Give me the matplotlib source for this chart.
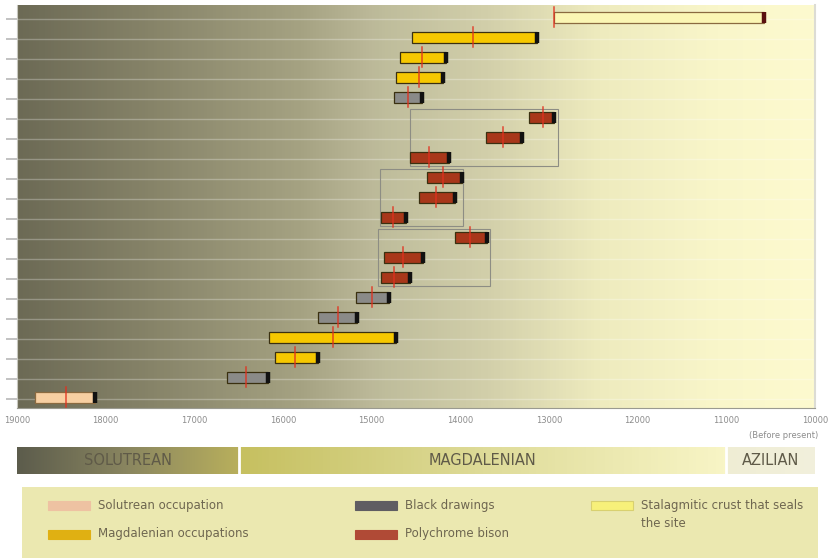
import numpy as np
import matplotlib
matplotlib.use("Agg")
import matplotlib.pyplot as plt
from matplotlib.colors import LinearSegmentedColormap
from matplotlib.patches import Rectangle

# ── Data (years before present), rows listed top to bottom ──────────────────
kinds = ["crust", "magd", "magd", "magd", "black",
         "bison", "bison", "bison", "bison", "bison",
         "bison", "bison", "bison", "bison", "black",
         "black", "magd", "magd", "black", "solu"]
starts = [12940, 14550, 14680, 14730, 14750,
          13220, 13710, 14570, 14380, 14470,
          14900, 14060, 14860, 14900, 15180,
          15600, 16160, 16090, 16630, 18800]
ends = [10570, 13130, 14160, 14190, 14430,
        12940, 13310, 14130, 13980, 14060,
        14610, 13700, 14420, 14570, 14800,
        15160, 14720, 15600, 16170, 18120]
marks = [12940, 13860, 14430, 14470, 14590,
         13070, 13520, 14350, 14200, 14280,
         14760, 13890, 14650, 14750, 15000,
         15380, 15440, 15870, 16420, 18450]

# frames around groups of polychrome bison (old, young, first row, last row)
group_old = [14570, 14910, 14930]
group_young = [12900, 13970, 13670]
group_first = [6, 9, 12]
group_last = [8, 11, 14]

xticks = [19000, 18000, 17000, 16000, 15000, 14000, 13000, 12000, 11000, 10000]

periods = ["SOLUTREAN", "MAGDALENIAN", "AZILIAN"]
period_from = [19000, 16500, 11000]
period_to = [16500, 11000, 10000]

legend_labels = ["Solutrean occupation", "Magdalenian occupations",
                 "Black drawings", "Polychrome bison",
                 "Stalagmitic crust that seals\nthe site"]
legend_kinds = ["solu", "magd", "black", "bison", "crust"]

# ── Styles ──────────────────────────────────────────────────────────────────
fill = {"solu": "#f7cfa2", "magd": "#f6c800", "black": "#8a8a88",
        "bison": "#a8371a", "crust": "#fbf6b4"}
swatch = {"solu": "#eec2a2", "magd": "#e0b012", "black": "#5f5d62",
          "bison": "#b04a36", "crust": "#f7f07a"}
text_col = "#6e6650"

W, H = 835, 560
fig = plt.figure(figsize=(W / 100, H / 100), dpi=100)
fig.patch.set_facecolor("white")

# ── Main timeline ───────────────────────────────────────────────────────────
ax = fig.add_axes([17 / W, 1 - 408 / H, 798 / W, 403 / H])
ax.set_xlim(19000, 10000)
ax.set_ylim(20.55, 0.4)

bg = LinearSegmentedColormap.from_list("bg", [
    (0.0, "#6c6a55"), (0.17, "#878469"), (0.355, "#a5a282"),
    (0.455, "#bebc9b"), (0.59, "#d2cfaa"), (0.73, "#eeebbe"),
    (0.88, "#f9f6ca"), (1.0, "#fdfacf")])
ax.imshow(np.linspace(0, 1, 256).reshape(1, -1), cmap=bg, aspect="auto",
          extent=(19000, 10000, 20.55, 0.4), zorder=0)

rows = np.arange(1, len(kinds) + 1)
for r in rows:
    ax.axhline(r + 0.1, color="white", alpha=0.28, lw=1, zorder=1)

h = 0.55
for r, k, s, e, m in zip(rows, kinds, starts, ends, marks):
    edge = "#8a6a40" if k in ("crust", "solu") else "#3a3010"
    ax.barh(r, s - e, left=e, height=h, color=fill[k], edgecolor=edge,
            lw=0.9, zorder=3)
    cap = "#5a1010" if k == "crust" else "#111111"
    ax.plot([e, e], [r - h / 2, r + h / 2], color=cap, lw=3.2,
            solid_capstyle="butt", zorder=4)
    ax.plot([m, m], [r - 0.5, r + 0.5], color="#e2301e", lw=1.1,
            alpha=0.85, zorder=5)

for o, y, a, b in zip(group_old, group_young, group_first, group_last):
    ax.add_patch(Rectangle((y, a - 0.38), o - y, (b - a) + 0.82, fill=False,
                           edgecolor="#8d8d84", lw=0.8, zorder=2))

ax.set_yticks(rows + 0.1)
ax.set_yticklabels([])
ax.tick_params(axis="y", length=8, width=1.2, color="#b8b8b8", direction="out")
ax.set_xticks(xticks)
ax.set_xticklabels([str(t) for t in xticks], fontsize=6, color="#8c8c8c")
ax.tick_params(axis="x", length=0, pad=6)
ax.spines["top"].set_visible(False)
ax.spines["left"].set_color("#c8c8c0")
ax.spines["bottom"].set_color("#9a9a90")
ax.spines["right"].set_color("#dcdcd4")
ax.spines["right"].set_linewidth(1.5)

fig.text(818 / W, 1 - 436 / H, "(Before present)", ha="right", va="center",
         fontsize=6, color="#8c8c8c")

# ── Period band ─────────────────────────────────────────────────────────────
band = fig.add_axes([17 / W, 1 - 474 / H, 798 / W, 27 / H])
band.set_xlim(19000, 10000)
band.set_ylim(0, 1)
band.axis("off")
band_cmaps = [
    LinearSegmentedColormap.from_list("p0", ["#5c5c4c", "#8a8660", "#b8af5c"]),
    LinearSegmentedColormap.from_list("p1", ["#c6c060", "#dedb98", "#f8f5c6"]),
    LinearSegmentedColormap.from_list("p2", ["#efedd4", "#f2f0dc"]),
]
for name, a, b, cm in zip(periods, period_from, period_to, band_cmaps):
    band.imshow(np.linspace(0, 1, 128).reshape(1, -1), cmap=cm, aspect="auto",
                extent=(a, b, 0, 1), zorder=0)
    band.text((a + b) / 2, 0.5, name, ha="center", va="center",
              fontsize=10.5, color="#5f5a48")
for b in period_to[:-1]:
    band.axvline(b, color="white", lw=2, zorder=2)

# ── Legend box ──────────────────────────────────────────────────────────────
leg = fig.add_axes([22 / W, 1 - 558 / H, 796 / W, 71 / H])
leg.set_xlim(0, 796)
leg.set_ylim(71, 0)
leg.set_facecolor("#ebe8b0")
for sp in leg.spines.values():
    sp.set_visible(False)
leg.set_xticks([])
leg.set_yticks([])

col_x = [26, 333, 569]
row_y = [18, 47]
for i, (lab, k) in enumerate(zip(legend_labels, legend_kinds)):
    cx = col_x[i // 2]
    cy = row_y[i % 2]
    ec = "#d8d070" if k == "crust" else swatch[k]
    leg.add_patch(Rectangle((cx, cy - 4.5), 42, 9, facecolor=swatch[k],
                            edgecolor=ec, lw=0.8))
    leg.text(cx + 50, cy - 6 if "\n" in lab else cy, lab,
             ha="left", va="top" if "\n" in lab else "center",
             fontsize=8.5, color=text_col, linespacing=1.5)

fig.savefig("out.png", dpi=100)
